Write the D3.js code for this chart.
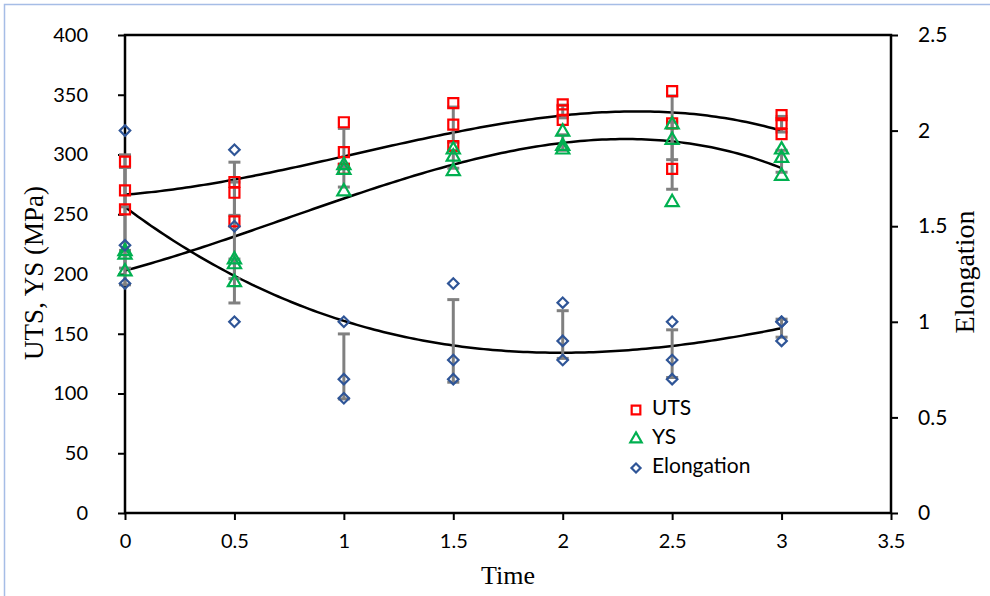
<!DOCTYPE html>
<html>
<head>
<meta charset="utf-8">
<script src="https://cdn.jsdelivr.net/npm/d3@7"></script>
<style>
  body { margin: 0; background: #fff; }
  svg { display: block; }
  .tick text { font-family: Lato, "Open Sans", sans-serif; fill: #000; }
</style>
</head>
<body>
<div id="chart"></div>
<script>
// three specimens per time step
const times = [0, 0.5, 1, 1.5, 2, 2.5, 3];
const utsValues = [
  [294, 270, 254], [277, 268, 244], [327, 302, 288], [343, 325, 307],
  [342, 337, 329], [353, 326, 288], [333, 326, 317]
];
const ysValues = [
  [219, 216, 202], [212, 208, 193], [291, 287, 269], [304, 298, 286],
  [319, 307, 304], [325, 312, 260], [304, 297, 282]
];
const elongValues = [
  [2.0, 1.4, 1.2], [1.9, 1.5, 1.0], [1.0, 0.7, 0.6], [1.2, 0.8, 0.7],
  [1.1, 0.9, 0.8], [1.0, 0.8, 0.7], [1.0, 1.0, 0.9]
];
const xTicks = [0, 0.5, 1, 1.5, 2, 2.5, 3, 3.5];
const leftTicks = [0, 50, 100, 150, 200, 250, 300, 350, 400];
const rightTicks = [0, 0.5, 1, 1.5, 2, 2.5];
const legendNames = ['UTS', 'YS', 'Elongation'];

const width = 990, height = 596;
const margin = { left: 125, right: 99, top: 35, bottom: 83 };

const svg = d3.select('#chart').append('svg')
  .attr('width', width)
  .attr('height', height);

// chart area outline (only top and left show)
svg.append('rect')
  .attr('x', 4.5).attr('y', 4.5)
  .attr('width', width + 10).attr('height', height + 10)
  .attr('fill', 'none')
  .attr('stroke', '#a6bde6')
  .attr('stroke-width', 1.5);

const x = d3.scaleLinear().domain([0, 3.5]).range([margin.left, width - margin.right]);
const yL = d3.scaleLinear().domain([0, 400]).range([height - margin.bottom, margin.top]);
const yR = d3.scaleLinear().domain([0, 2.5]).range([height - margin.bottom, margin.top]);

// axes
const gx = svg.append('g')
  .attr('transform', `translate(0,${height - margin.bottom})`)
  .call(d3.axisBottom(x).tickValues(xTicks).tickSize(7).tickPadding(14).tickFormat(d3.format('')));
const gl = svg.append('g')
  .attr('transform', `translate(${margin.left},0)`)
  .call(d3.axisLeft(yL).tickValues(leftTicks).tickSize(7).tickPadding(30));
const gr = svg.append('g')
  .attr('transform', `translate(${width - margin.right},0)`)
  .call(d3.axisRight(yR).tickValues(rightTicks).tickSize(7).tickPadding(20).tickFormat(d3.format('')));

[gx, gl, gr].forEach(g => {
  g.select('.domain').remove();
  g.selectAll('.tick line').attr('stroke', '#000').attr('stroke-width', 2);
  g.selectAll('.tick text').style('font-size', '20px');
});
gr.selectAll('.tick text').style('font-size', '21px');

// plot box
svg.append('rect')
  .attr('x', margin.left).attr('y', margin.top)
  .attr('width', width - margin.left - margin.right)
  .attr('height', height - margin.top - margin.bottom)
  .attr('fill', 'none')
  .attr('stroke', '#000')
  .attr('stroke-width', 2.5);

// axis titles
svg.append('text')
  .attr('transform', `translate(${x(1.75)},578)`)
  .attr('text-anchor', 'middle')
  .attr('dominant-baseline', 'middle')
  .style('font-family', '"Liberation Serif", "Times New Roman", serif')
  .style('font-size', '26px')
  .text('Time');
svg.append('text')
  .attr('transform', 'translate(37,273) rotate(-90)')
  .attr('text-anchor', 'middle')
  .attr('dominant-baseline', 'middle')
  .style('font-family', '"Liberation Serif", "Times New Roman", serif')
  .style('font-size', '27px')
  .text('UTS, YS (MPa)');
svg.append('text')
  .attr('transform', 'translate(968,272) rotate(-90)')
  .attr('text-anchor', 'middle')
  .attr('dominant-baseline', 'middle')
  .style('font-family', '"Liberation Serif", "Times New Roman", serif')
  .style('font-size', '28px')
  .text('Elongation');

// mean and population standard deviation of each group
const stats = vals => {
  const m = d3.mean(vals);
  const sd = Math.sqrt(d3.mean(vals, v => (v - m) * (v - m)));
  return { m, sd };
};

// least squares polynomial fit (order 3) like a spreadsheet trendline
function polyFit(xs, ys, order) {
  const n = order + 1;
  const A = Array.from({ length: n }, () => new Array(n + 1).fill(0));
  xs.forEach((xv, k) => {
    for (let i = 0; i < n; i++) {
      for (let j = 0; j < n; j++) A[i][j] += Math.pow(xv, i + j);
      A[i][n] += ys[k] * Math.pow(xv, i);
    }
  });
  for (let c = 0; c < n; c++) {
    let p = c;
    for (let r = c + 1; r < n; r++) if (Math.abs(A[r][c]) > Math.abs(A[p][c])) p = r;
    [A[c], A[p]] = [A[p], A[c]];
    for (let r = 0; r < n; r++) {
      if (r === c) continue;
      const f = A[r][c] / A[c][c];
      for (let k = c; k <= n; k++) A[r][k] -= f * A[c][k];
    }
  }
  const coef = A.map((row, i) => row[n] / row[i]);
  return t => coef.reduce((s, c, i) => s + c * Math.pow(t, i), 0);
}

// diamond = square turned by 45 degrees
const series = [
  { name: 'UTS', values: utsValues, y: yL, color: '#ff0000', shape: d3.symbolSquare, size: 100, rot: 0 },
  { name: 'YS', values: ysValues, y: yL, color: '#00b050', shape: d3.symbolTriangle, size: 75, rot: 0 },
  { name: 'Elongation', values: elongValues, y: yR, color: '#2f5597', shape: d3.symbolSquare, size: 55, rot: 45 }
];

const line = d3.line().x(d => x(d[0]));

series.forEach(s => {
  const xs = [], vs = [];
  s.values.forEach((grp, i) => grp.forEach(v => { xs.push(times[i]); vs.push(v); }));
  const f = polyFit(xs, vs, 3);
  const pts = d3.range(0, 3.0001, 0.02).map(t => [t, f(t)]);
  svg.append('path')
    .datum(pts)
    .attr('d', line.y(d => s.y(d[1])))
    .attr('fill', 'none')
    .attr('stroke', '#000')
    .attr('stroke-width', 2.5);
});

// error bars
series.forEach(s => {
  const g = svg.append('g').attr('stroke', '#808080').attr('stroke-width', 3);
  s.values.forEach((grp, i) => {
    const { m, sd } = stats(grp);
    const cx = x(times[i]);
    g.append('line').attr('x1', cx).attr('x2', cx).attr('y1', s.y(m - sd)).attr('y2', s.y(m + sd));
    [m - sd, m + sd].forEach(v => {
      g.append('line').attr('x1', cx - 6).attr('x2', cx + 6).attr('y1', s.y(v)).attr('y2', s.y(v));
    });
  });
});

// markers
series.forEach(s => {
  const sym = d3.symbol().type(s.shape).size(s.size);
  const pts = [];
  s.values.forEach((grp, i) => grp.forEach(v => pts.push([times[i], v])));
  svg.append('g').selectAll('path')
    .data(pts)
    .enter().append('path')
    .attr('d', sym)
    .attr('transform', d => `translate(${x(d[0])},${s.y(d[1])}) rotate(${s.rot})`)
    .attr('fill', 'none')
    .attr('stroke', s.color)
    .attr('stroke-width', 2.2);
});

// legend
const legend = svg.append('g').attr('transform', 'translate(636,410)');
series.forEach((s, i) => {
  const row = legend.append('g').attr('transform', `translate(0,${i * 29})`);
  row.append('path')
    .attr('d', d3.symbol().type(s.shape).size(s.size * 0.75))
    .attr('transform', `rotate(${s.rot})`)
    .attr('fill', 'none')
    .attr('stroke', s.color)
    .attr('stroke-width', 2.2);
  row.append('text')
    .attr('x', 16)
    .attr('dominant-baseline', 'middle')
    .style('font-family', 'Lato, "Open Sans", sans-serif')
    .style('font-size', '21px')
    .text(legendNames[i]);
});
</script>
</body>
</html>
